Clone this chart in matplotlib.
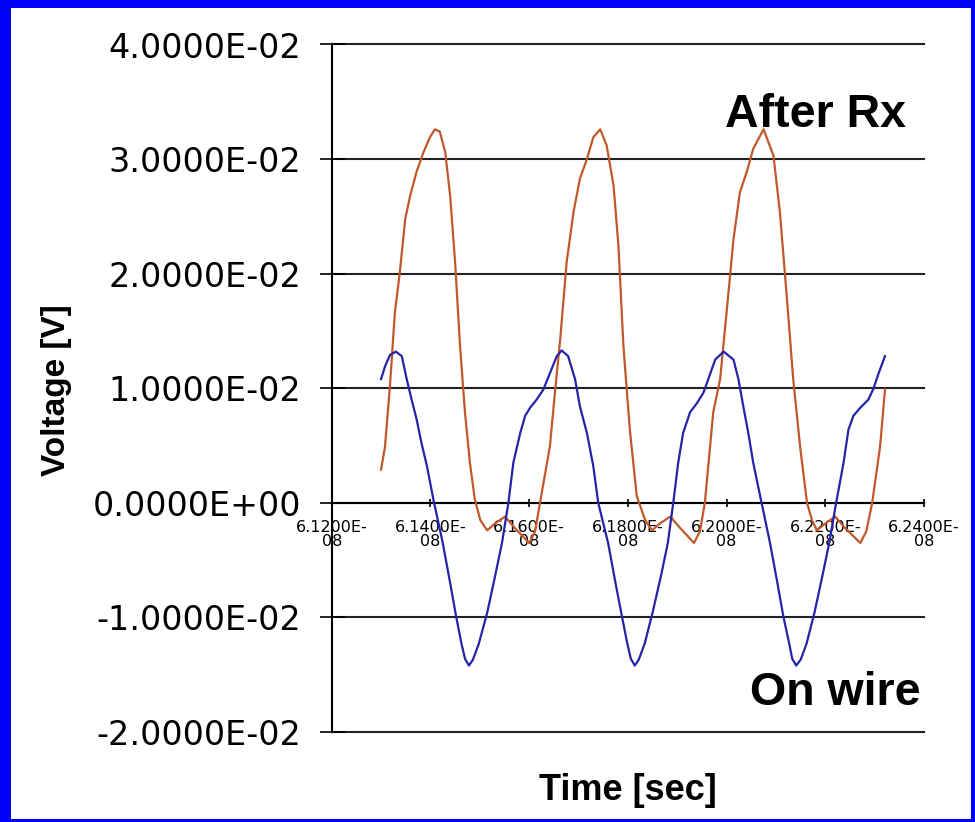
import matplotlib
matplotlib.use("Agg")
import matplotlib.pyplot as plt
import numpy as np
from matplotlib.patches import Rectangle
from matplotlib.ticker import FuncFormatter

# time in units of 1e-8 s, voltage in V
t_rx = [6.1300, 6.1308, 6.1318, 6.1328, 6.1338, 6.1349, 6.1359, 6.1372, 6.1386, 6.1399,
        6.1409, 6.1419, 6.1430, 6.1440, 6.1450, 6.1460, 6.1470, 6.1480, 6.1490, 6.1501,
        6.1515, 6.1531, 6.1551, 6.1571, 6.1600, 6.1612, 6.1622, 6.1642, 6.1652, 6.1663,
        6.1676, 6.1690, 6.1703, 6.1717, 6.1730, 6.1744, 6.1757, 6.1771, 6.1781, 6.1791,
        6.1804, 6.1818, 6.1835, 6.1849, 6.1865, 6.1886, 6.1906, 6.1934, 6.1946, 6.1956,
        6.1973, 6.1987, 6.2000, 6.2014, 6.2027, 6.2041, 6.2054, 6.2075, 6.2095, 6.2108,
        6.2122, 6.2135, 6.2149, 6.2163, 6.2173, 6.2183, 6.2200, 6.2220, 6.2240, 6.2271,
        6.2283, 6.2295, 6.2311, 6.2321]
v_rx = [0.0029, 0.0049, 0.0102, 0.0166, 0.0201, 0.0248, 0.0268, 0.0289, 0.0306, 0.0319,
        0.0326, 0.0324, 0.0306, 0.0268, 0.0210, 0.0137, 0.0079, 0.0035, 0.0003, -0.0015,
        -0.0024, -0.0018, -0.0012, -0.0022, -0.0035, -0.0025, 0.0000, 0.0049, 0.0095, 0.0143,
        0.0210, 0.0254, 0.0283, 0.0300, 0.0319, 0.0326, 0.0312, 0.0277, 0.0224, 0.0137,
        0.0064, 0.0006, -0.0015, -0.0024, -0.0018, -0.0012, -0.0022, -0.0035, -0.0025, 0.0000,
        0.0079, 0.0108, 0.0166, 0.0230, 0.0271, 0.0289, 0.0309, 0.0326, 0.0303, 0.0254,
        0.0180, 0.0108, 0.0049, 0.0000, -0.0015, -0.0024, -0.0018, -0.0012, -0.0022, -0.0035,
        -0.0025, 0.0000, 0.0049, 0.0099]

t_wire = [6.1300, 6.1308, 6.1318, 6.1330, 6.1342, 6.1352, 6.1362, 6.1372, 6.1382, 6.1393,
          6.1406, 6.1425, 6.1440, 6.1452, 6.1463, 6.1470, 6.1478, 6.1486, 6.1498, 6.1515,
          6.1531, 6.1545, 6.1558,
          6.1568, 6.1582, 6.1592, 6.1602, 6.1615, 6.1629, 6.1642, 6.1656, 6.1666, 6.1679,
          6.1693, 6.1703, 6.1717, 6.1730, 6.1740,
          6.1760, 6.1775, 6.1788, 6.1799, 6.1806, 6.1814, 6.1822, 6.1834, 6.1850, 6.1867,
          6.1881, 6.1892,
          6.1902, 6.1912, 6.1926, 6.1940, 6.1953, 6.1963, 6.1977, 6.1994, 6.2014, 6.2024,
          6.2034, 6.2044, 6.2054, 6.2068,
          6.2088, 6.2103, 6.2115, 6.2127, 6.2133, 6.2141, 6.2150, 6.2162, 6.2178, 6.2194,
          6.2208, 6.2222,
          6.2237, 6.2247, 6.2257, 6.2271, 6.2287, 6.2297, 6.2308, 6.2321]
v_wire = [0.0108, 0.0119, 0.0129, 0.0132, 0.0128, 0.0108, 0.0090, 0.0073, 0.0052, 0.0032,
          0.0003, -0.0035, -0.0070, -0.0099, -0.0123, -0.0136, -0.0142, -0.0137, -0.0123, -0.0096,
          -0.0064, -0.0035, 0.0000,
          0.0035, 0.0061, 0.0076, 0.0083, 0.0090, 0.0099, 0.0113, 0.0128, 0.0133, 0.0128,
          0.0108, 0.0084, 0.0061, 0.0032, 0.0000,
          -0.0035, -0.0070, -0.0099, -0.0123, -0.0136, -0.0142, -0.0137, -0.0123, -0.0096, -0.0064,
          -0.0035, 0.0000,
          0.0035, 0.0061, 0.0079, 0.0087, 0.0096, 0.0108, 0.0125, 0.0132, 0.0125, 0.0108,
          0.0084, 0.0061, 0.0035, 0.0006,
          -0.0035, -0.0070, -0.0099, -0.0123, -0.0136, -0.0142, -0.0137, -0.0123, -0.0096, -0.0064,
          -0.0035, 0.0000,
          0.0035, 0.0064, 0.0076, 0.0083, 0.0090, 0.0099, 0.0113, 0.0128]

x_ticks = [6.12, 6.14, 6.16, 6.18, 6.20, 6.22, 6.24]
y_ticks = [-0.02, -0.01, 0.0, 0.01, 0.02, 0.03, 0.04]

W, H = 975, 822
fig = plt.figure(figsize=(W / 100, H / 100), dpi=100, facecolor='#0000ff')
# white panel inside the blue frame
fig.add_artist(Rectangle((11 / W, 3 / H), (W - 15) / W, (H - 11) / H,
                         transform=fig.transFigure, facecolor='white',
                         edgecolor='none', zorder=-10))

ax = fig.add_axes([331.7 / W, (H - 732) / H, 592.3 / W, 687.5 / H])
ax.set_facecolor('none')

ax.plot(np.array(t_rx) * 1e-8, v_rx, color='#c0582a', lw=1.6, zorder=3)
ax.plot(np.array(t_wire) * 1e-8, v_wire, color='#2424a8', lw=1.6, zorder=3)

ax.set_xlim(6.12e-8, 6.24e-8)
ax.set_ylim(-0.02, 0.04)
ax.set_xticks(np.array(x_ticks) * 1e-8)
ax.set_yticks(y_ticks)
ax.xaxis.set_major_formatter(FuncFormatter(lambda v, p: f"{v:.4E}".replace("E-", "E-\n")))
ax.yaxis.set_major_formatter(FuncFormatter(lambda v, p: f"{v:.4E}"))

for s in ['top', 'right']:
    ax.spines[s].set_visible(False)
ax.spines['bottom'].set_position(('data', 0))
ax.spines['bottom'].set_linewidth(1.5)
ax.spines['left'].set_linewidth(1.5)

ax.grid(axis='y', color='#222222', lw=1.5)
for gl in ax.get_ygridlines():
    gl.set_clip_on(False)
ax.set_axisbelow(True)

ax.tick_params(axis='y', direction='inout', length=18, width=1.2, pad=13,
               labelsize=24, labelcolor='black')
ax.tick_params(axis='x', direction='inout', length=6, width=1.2, pad=9)
for lab in ax.get_xticklabels():
    lab.set_fontsize(11.5)
    lab.set_linespacing(0.95)

fig.text(57 / W, (H - 390) / H, 'Voltage [V]', rotation=90, ha='center', va='center',
         fontsize=24, fontweight='bold', family='Liberation Sans')
fig.text(628 / W, (H - 790) / H, 'Time [sec]', ha='center', va='center',
         fontsize=26, fontweight='bold', family='Liberation Sans')
fig.text(725 / W, (H - 126.7) / H, 'After Rx', ha='left', va='baseline',
         fontsize=33.5, fontweight='bold', family='Liberation Sans')
fig.text(750 / W, (H - 705) / H, 'On wire', ha='left', va='baseline',
         fontsize=33.5, fontweight='bold', family='Liberation Sans')

fig.savefig('out.png', dpi=100, facecolor=fig.get_facecolor())
